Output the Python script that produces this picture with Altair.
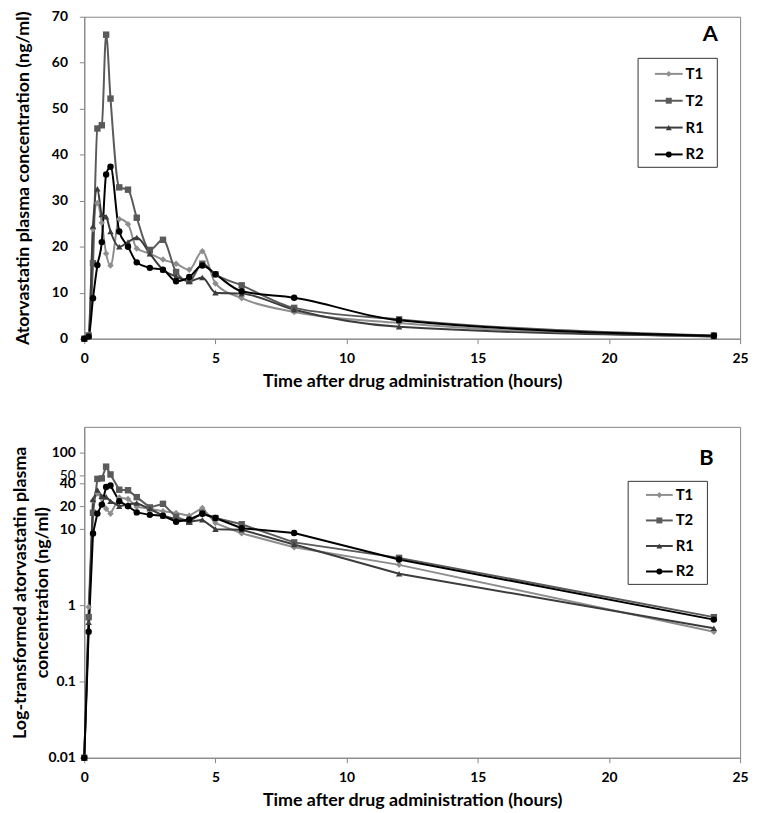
import altair as alt
import pandas as pd

times = [0, 0.167, 0.333, 0.5, 0.667, 0.833, 1, 1.333, 1.667, 2, 2.5, 3, 3.5, 4, 4.5, 5, 6, 8, 12, 24]
t1 = [0, 0.95, 23.8, 29.5, 25.2, 18.5, 15.9, 26.0, 24.9, 19.6, 18.5, 17.2, 16.3, 15.0, 19.0, 12.0, 8.8, 5.8, 3.4, 0.45]
t2 = [0, 0.7, 16.4, 45.7, 46.4, 66.1, 52.2, 32.9, 32.4, 26.3, 19.3, 21.5, 14.5, 12.5, 16.3, 14.0, 11.6, 6.7, 4.2, 0.7]
r1 = [0, 0.6, 24.5, 32.6, 27.0, 26.5, 23.3, 20.0, 21.0, 22.0, 18.5, 15.0, 13.5, 12.5, 13.3, 10.0, 9.8, 6.3, 2.6, 0.5]
r2 = [0, 0.45, 8.8, 16.0, 21.0, 35.7, 37.4, 23.3, 20.0, 16.6, 15.4, 15.0, 12.5, 13.4, 15.9, 14.0, 10.3, 8.9, 4.0, 0.65]

series_names = ["T1", "T2", "R1", "R2"]
colors = ["#8e8e8e", "#5a5a5a", "#3c3c3c", "#000000"]
shapes = ["diamond", "square", "triangle-up", "circle"]

df = pd.DataFrame({
    "time": times * 4,
    "series": [s for s in series_names for _ in times],
    "conc": t1 + t2 + r1 + r2,
})
df["conc_log"] = df["conc"].clip(lower=0.01)
leg_df = pd.DataFrame({"series": series_names})

FONT = "Lato"


def panel(ycol, yscale, yaxis, interp, letter, letter_xy, w, h, box, rows, line_x, label_x):
    x = alt.X("time:Q", scale=alt.Scale(domain=[0, 25], nice=False),
              axis=alt.Axis(values=[0, 5, 10, 15, 20, 25], title="Time after drug administration (hours)",
                            grid=False, labelFlush=False, labelPadding=8, titlePadding=7))
    y = alt.Y(f"{ycol}:Q", scale=yscale, axis=yaxis)
    color = alt.Color("series:N", scale=alt.Scale(domain=series_names, range=colors), legend=None)
    main = [alt.Chart(df).mark_line(strokeWidth=2, interpolate=interp).encode(x=x, y=y, color=color)]
    for s, shp in zip(series_names, shapes):
        main.append(
            alt.Chart(df).transform_filter(alt.datum.series == s).mark_point(
                filled=True, opacity=1, size=42, shape=shp).encode(x=x, y=y, color=color))
    main.append(alt.Chart(pd.DataFrame({"label": [letter]})).mark_text(
        font=FONT, fontSize=22, fontWeight="bold", color="black").encode(
        x=alt.value(letter_xy[0]), y=alt.value(letter_xy[1]), text="label:N"))

    ly = alt.Y("series:N", scale=alt.Scale(type="point", domain=series_names, range=rows, padding=0), axis=None)
    frame = alt.Chart(pd.DataFrame({"f": [0]})).mark_rect(
        fill="white", stroke="#333333", strokeWidth=1).encode(
        x=alt.value(box[0]), x2=alt.value(box[1]), y=alt.value(box[2]), y2=alt.value(box[3]))
    rules = alt.Chart(leg_df).mark_rule(strokeWidth=2).encode(
        x=alt.value(line_x[0]), x2=alt.value(line_x[1]), y=ly, color=color)
    marks = alt.Chart(leg_df).mark_point(filled=True, opacity=1, size=36).encode(
        x=alt.value((line_x[0] + line_x[1]) / 2), y=ly, color=color,
        shape=alt.Shape("series:N", scale=alt.Scale(domain=series_names, range=shapes), legend=None))
    texts = alt.Chart(leg_df).mark_text(
        align="left", font=FONT, fontSize=15, fontWeight="bold", color="black").encode(
        x=alt.value(label_x), y=ly, text="series:N")
    legend = alt.layer(frame, rules, marks, texts)
    return alt.layer(alt.layer(*main), legend).resolve_scale(y="independent").properties(width=w, height=h)


top = panel(
    "conc", alt.Scale(domain=[0, 70], nice=False),
    alt.Axis(values=[0, 10, 20, 30, 40, 50, 60, 70], title="Atorvastatin plasma concentration (ng/ml)",
             grid=False, labelPadding=12, titlePadding=19),
    "monotone", "A", (632, 17), 662, 325,
    (559, 639, 42, 152), [57.7, 139], (576, 604), 607)

bottom = panel(
    "conc_log", alt.Scale(type="log", domain=[0.01, 220], nice=False),
    alt.Axis(values=[0.01, 0.1, 1, 10, 20, 40, 50, 100], format="~g", labelOverlap=False,
             labelFontWeight=alt.expr("datum.value == 50 ? 'normal' : 'bold'"),
             title=["Log-transformed atorvastatin plasma", "concentration (ng/ml)"], grid=False,
             labelPadding=4, titlePadding=-4, titleLineHeight=23),
    "linear", "B", (628, 31), 662, 334,
    (549, 629, 55, 159), [68.7, 146], (567, 594), 597)

chart = alt.vconcat(top, bottom, spacing=35).properties(
    padding={"top": -3, "left": 2, "right": 2, "bottom": 2}
).configure_view(stroke="#868686", strokeWidth=1).configure_axis(
    domainColor="#868686", tickColor="#868686", tickSize=5,
    labelFont=FONT, labelFontSize=14, labelFontWeight="bold", labelColor="black",
    titleFont=FONT, titleFontSize=18, titleFontWeight="bold", titleColor="black",
)

chart.save("out.html", embed_options={"renderer": "svg", "actions": False})
